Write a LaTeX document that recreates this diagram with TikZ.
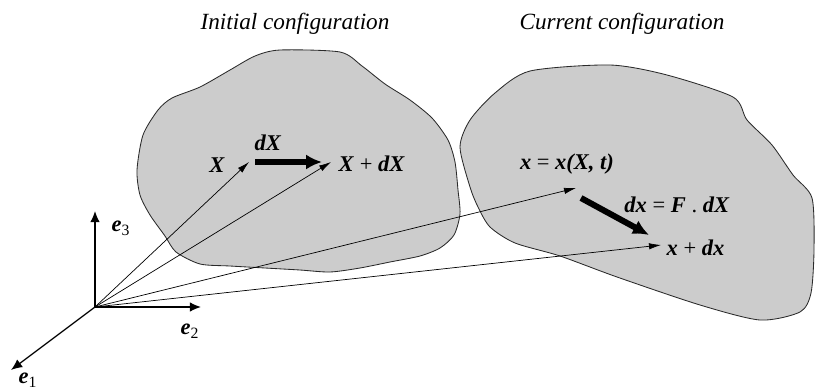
\documentclass[tikz,border=0pt]{standalone}
\usepackage{fontspec}
\setmainfont{Liberation Serif}
\usepackage{xcolor}
\usepackage{tikz}
\usetikzlibrary{arrows.meta}
\definecolor{fondgris}{HTML}{CCCCCC}
\definecolor{contour}{HTML}{2A2A2A}
\tikzset{
  corps/.style={draw=contour, fill=fondgris, line width=0.6pt},
  fleche/.style={-{Latex[length=3mm, width=1.6mm]}, line width=0.5pt},
  axe/.style={-{Latex[length=2.8mm, width=2.4mm]}, line width=0.9pt},
  flechegrasse/.style={-{Latex[length=4mm, width=3.8mm]}, line width=4.3pt},
  titre/.style={font=\fontsize{16.5}{19}\selectfont\itshape},
  etiquette/.style={font=\fontsize{16}{18}\selectfont, inner sep=1pt}
}
\newcommand{\vect}[1]{\textbf{\textit{#1}}}

\begin{document}
\begin{tikzpicture}[x=0.025cm, y=-0.025cm]
    \useasboundingbox (0,0) rectangle (815,389);

    % les deux corps
    \draw[corps] plot[smooth cycle, tension=0.45] coordinates {
      (280,50) (340,52) (362,66) (385,84) (410,100) (432,118) (448,140)
      (455,162) (458,190) (460,214) (454,235) (440,248) (420,256)
      (390,262) (360,268) (330,272) (300,270) (265,268) (230,266)
      (200,264) (176,252) (165,236) (150,215) (140,195) (137,170)
      (143,135) (158,110) (172,98) (200,87) (230,70) (255,56)};
    \draw[corps] plot[smooth cycle, tension=0.45] coordinates {
      (530,71) (610,65) (667,75) (733,97) (747,120) (772,145) (793,175)
      (812,198) (814,250) (811,293) (800,312) (760,320) (700,305)
      (617,277) (560,256) (515,243) (490,227) (478,207) (470,187)
      (460,147) (470,120) (495,93)};

    \node[titre] (initiale) at (295,24) {Initial configuration};
    \node[titre] (courante) at (622,24) {Current configuration};

    % repere
    \coordinate (O) at (95,307);
    \coordinate (pe3) at (95,211);
    \coordinate (pe2) at (201,307);
    \coordinate (pe1) at (11,370);
    \draw[axe] (O) -- (pe3);
    \draw[axe] (O) -- (pe2);
    \draw[axe] (O) -- (pe1);
    \node[etiquette] (e3) at (121,228) {\vect{e}\textsubscript{3}};
    \node[etiquette] (e2) at (190,331) {\vect{e}\textsubscript{2}};
    \node[etiquette, anchor=south] (e1) at (28,389) {\vect{e}\textsubscript{1}};

    % positions
    \coordinate (pX) at (249,162);
    \coordinate (pXdX) at (331,162);
    \coordinate (px) at (576,188);
    \coordinate (pxdx) at (661,245);
    \draw[fleche] (O) -- (pX);
    \draw[fleche] (O) -- (pXdX);
    \draw[fleche] (O) -- (px);
    \draw[fleche] (O) -- (pxdx);

    \node[etiquette] (X) at (217,165) {\vect{X}};
    \node[etiquette, anchor=west] (XdX) at (337,164) {\vect{X} + \vect{dX}};
    \node[etiquette] (x) at (567,164) {\vect{x} = \vect{x(X, t)}};
    \node[etiquette, anchor=west] (xdx) at (665,248) {\vect{x} + \vect{dx}};
    \node[etiquette] (dXlab) at (268,143) {\vect{dX}};
    \node[etiquette] (dxlab) at (677,205) {\vect{dx} = \vect{F} . \vect{dX}};

    % increments
    \coordinate (dXa) at (255,162);
    \coordinate (dXb) at (322,162);
    \coordinate (dxa) at (581,198);
    \coordinate (dxb) at (649,235);
    \draw[flechegrasse] (dXa) -- (dXb);
    \draw[flechegrasse] (dxa) -- (dxb);
\end{tikzpicture}
\end{document}
